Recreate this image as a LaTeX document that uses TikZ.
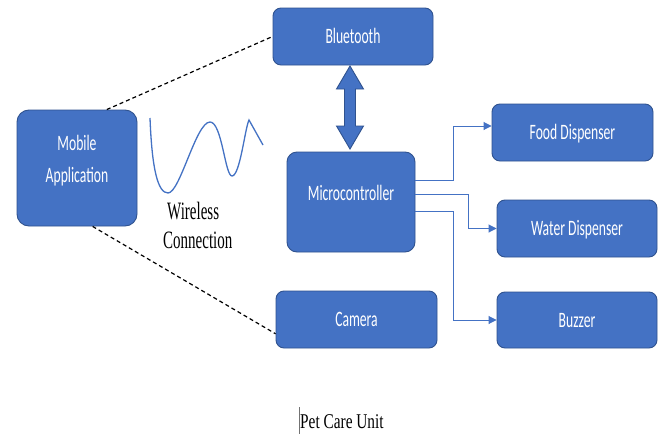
\documentclass[tikz,border=0pt]{standalone}
\usepackage{fontspec}
\setmainfont{Liberation Serif}
\newfontfamily\boxfont[FakeStretch=0.62]{Carlito}
\newfontfamily\serfont[FakeStretch=0.6]{Liberation Serif}
\newfontfamily\petfont[FakeStretch=0.73]{Liberation Serif}
\usetikzlibrary{arrows.meta}
\definecolor{bfill}{HTML}{4472C4}
\definecolor{bline}{HTML}{2F528F}
\begin{document}
\begin{tikzpicture}[x=1pt,y=-1pt,
  box/.style={draw=bline, line width=0.9pt, fill=bfill, text=white,
    font=\boxfont\fontsize{22}{26}\selectfont, inner sep=0pt,
    rounded corners=8pt, text height=14pt, text depth=0pt},
  boxtext/.style={text=white, font=\boxfont\fontsize{22}{26}\selectfont, inner sep=0pt},
  conn/.style={draw=bfill, line width=0.9pt, -{Triangle[length=8pt,width=8pt]}},
  dashlink/.style={draw=black, line width=1.2pt, dash pattern=on 4pt off 3pt},
  wavestyle/.style={draw=bfill, line width=1.3pt},
  serftext/.style={inner sep=0pt, font=\serfont\fontsize{25}{30}\selectfont}
]
\fill[white] (0,0) rectangle (662,434);
\useasboundingbox (0,0) rectangle (662,434);

% boxes
\node[box, minimum width=120pt, minimum height=116pt, rounded corners=12pt] (mob) at (77,168) {};
\node[boxtext, anchor=base] (mobt1) at (77,150) {Mobile};
\node[boxtext, anchor=base] (mobt2) at (77,182) {Application};

\node[box, minimum width=160pt, minimum height=57pt] (bt) at (353,36.5) {Bluetooth};
\node[box, minimum width=128pt, minimum height=100pt, rounded corners=10pt, text depth=18pt] (mc) at (351,202) {Microcontroller};
\node[box, minimum width=161pt, minimum height=57pt] (food) at (572.5,132.5) {Food Dispenser};
\node[box, minimum width=160pt, minimum height=57pt] (water) at (577,228.5) {Water Dispenser};
\node[box, minimum width=160pt, minimum height=56pt] (buzz) at (577,320) {Buzzer};
\node[box, minimum width=161pt, minimum height=57pt] (cam) at (356.5,319.5) {Camera};

% double block arrow between Bluetooth and Microcontroller
\filldraw[fill=bfill, draw=bline, line width=0.9pt, line join=miter]
  (350,66) -- (363.5,89) -- (355.5,89) -- (355.5,126) -- (363.5,126) -- (350,149)
  -- (336.5,126) -- (344.5,126) -- (344.5,89) -- (336.5,89) -- cycle;

% connectors
\draw[conn] ([yshift=22pt]mc.east) -- ++(38,0) |- ([yshift=6.5pt]food.west);
\draw[conn] ([yshift=8pt]mc.east) -- ++(53,0) |- (water.west);
\draw[conn] ([yshift=-9pt]mc.east) -- ++(38,0) |- (buzz.west);

% dashed wireless links
\draw[dashlink] (mob.63.4) -- (bt.west);
\draw[dashlink] (mob.-75.7) -- (cam.190.9);

% wave
\draw[wavestyle] (150,118) .. controls (152,170) and (158,193) .. (168,193)
  .. controls (180,193) and (196,122) .. (210,122)
  .. controls (222,122) and (225,176) .. (232,176)
  .. controls (240,176) and (245,128) .. (249,120) -- (263,145);

\node[serftext, anchor=base west] (wl1) at (167,219) {Wireless};
\node[serftext, anchor=base west] (wl2) at (163,248) {Connection};

% caption
\node[inner sep=0pt, anchor=base west, font=\petfont\fontsize{21}{25}\selectfont] (pet) at (300,428) {Pet Care Unit};
\draw[black!55, line width=0.8pt] (299,407) -- (299,434);
\end{tikzpicture}
\end{document}
